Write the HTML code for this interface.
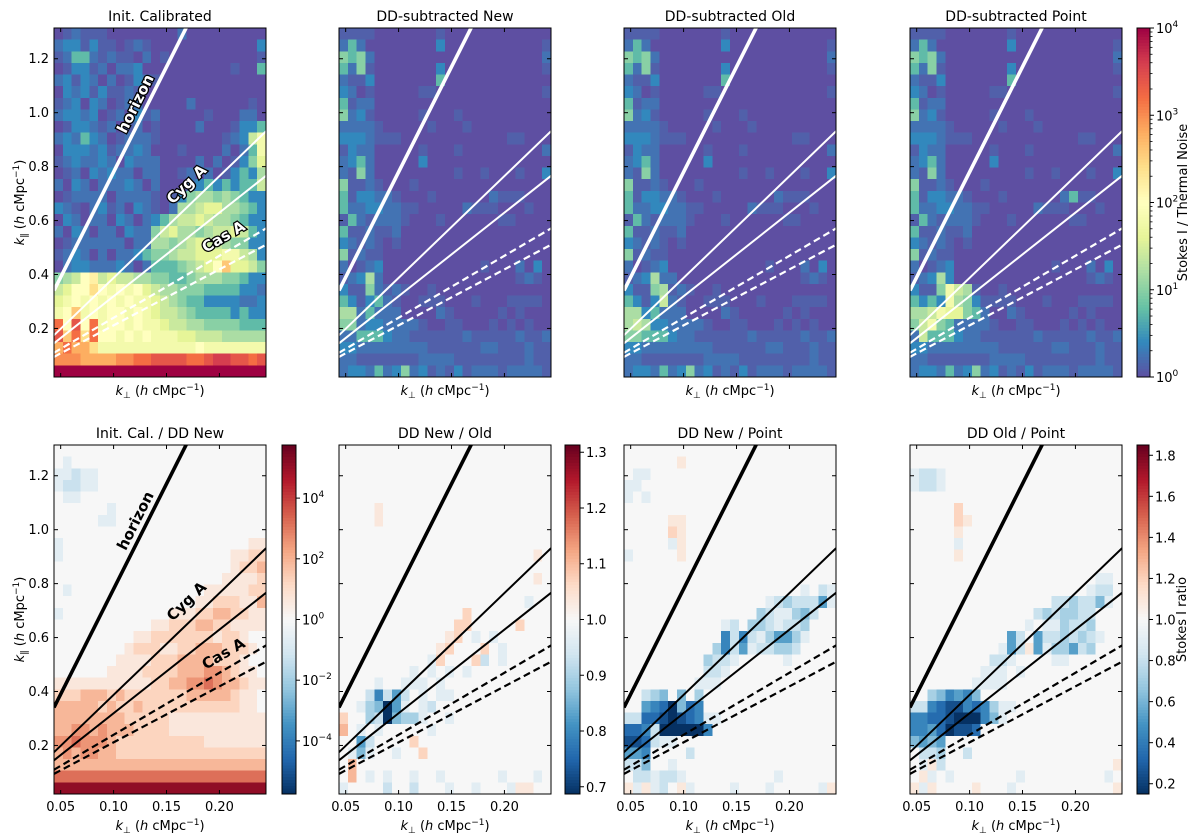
<!DOCTYPE html>
<html><head><meta charset="utf-8">
<style>
html,body{margin:0;padding:0;background:#fff;}
svg{display:block;font-family:"DejaVu Sans","Liberation Sans",sans-serif;}
</style></head>
<body>
<svg id="fig" width="1200" height="839" viewBox="0 0 1200 839" xmlns="http://www.w3.org/2000/svg"></svg>
<script>
// ---------- DATA ----------
const kPerpRange = [0.0437, 0.244];
const kParRange = [0.02, 1.314];
const xTickValues = [0.05, 0.10, 0.15, 0.20];
const xTickLabels = ["0.05", "0.10", "0.15", "0.20"];
const yTickValues = [0.2, 0.4, 0.6, 0.8, 1.0, 1.2];
const yTickLabels = ["0.2", "0.4", "0.6", "0.8", "1.0", "1.2"];
const panelTitlesTop = ["Init. Calibrated", "DD-subtracted New", "DD-subtracted Old", "DD-subtracted Point"];
const panelTitlesBottom = ["Init. Cal. / DD New", "DD New / Old", "DD New / Point", "DD Old / Point"];
const horizonLine = [7.8, 0.0];
const cygLines = [[3.775, 0.010], [3.1, 0.0095]];
const casLines = [[2.3, 0.0095], [2.075, 0.004]];
// log10 value for each level character 0..k
const levelLog = [0, 0.12, 0.25, 0.4, 0.75, 1.0, 1.2, 1.4, 1.6, 1.8, 2.0, 2.2, 2.4, 2.6, 2.8, 3.0, 3.2, 3.4, 3.6, 3.8, 4.0];

const levelsT1 = [
"012111000000002000000000","233131101210000000000003","124421211020100000000001","013312022300000000001004",
"231320201321000000000000","032313112100000000000000","123032012200000200000010","233230120312000001000220",
"013321201201000020001334","232432012221000000012379","033323122320001000020249","123223203222000020201358",
"012032322022001202013436","203202223202000234343447","012222022221013566565433","321023120321026678866543",
"032022032023467787665433","203202203225786656778743","012222220226656787765533","123202022345567788899763",
"023322232024445678ad8875","567ab7877665544566655433","78aaca9a9a87665554444332","89a9a9a9a998765443333223",
"9ad9a9aa9a98776544443433","gahag9aa9a99877665555444","hdgcgaa9a9a9998877766666","egeec99999999999a9999999",
"fffeeeeffgghhhhgghiihhgh","kkkkkkkkkkkkkkkkkkkkkkkk"];
const levelsT2 = [
"111100000001000000000000","242000000003000000000001","545200000000000000000002","425100000003000000000001",
"211300000004000000000000","320100000110000000000001","412200000000000000000000","523100000100010000000000",
"222210000010001000000000","333211100000000000011000","132200000100010000000002","234200000300000000000000",
"215200000000010010001003","511210001000000000000000","413322100010000002111000","422332211000002111000100",
"142122210001000000110000","411211200000000000000000","321210100000000000000000","512110000000000000000000",
"201230000000000010002030","123620000000000000001210","311521210010000000000000","431342100111000100011110",
"662422200002100000101000","552332222100110001010100","224443221111112111112112","332222222211111122111211",
"221111111222211111111211","233242352312131222122221"];
const levelsT3 = [
"111100000001000000000000","242000000003000000000001","545200000000000000000002","425100000003000000000001",
"211300000004000000000000","320100000110000000000001","412200000000000000000000","523100000100010000000000",
"222210000010001000000000","333211100000000000011000","132200000100010000000002","234200000300000000000000",
"215200000000010010001003","511210001000000000000000","413322100010000002111000","422332211000002111000100",
"142122210001000000110000","411211200000000000000000","321210100000000000000000","512110000000000000000000",
"201230000000000010002030","123622000000000000001210","311561210010000000000000","431372100111000100011110",
"663422200002100000101000","676332222100110001010100","554443221111112111112112","332222222211111122111211",
"221111111222211111111211","233242352312131222122221"];
const levelsT4 = [
"111100000001000000000000","242000000003000000000001","545200000000000000000002","425100000003000000000001",
"211300000004000000000000","320100000110000000000001","412200000000000000000000","523100000100010000000000",
"222210000010001000000000","333211100000000000011000","132200000100010000000002","234200000300000000000000",
"215200000000010010001003","511210001000000000000000","413322100010000002411000","422332211000002111000100",
"142122210001000000110000","411211200000000000000000","321210100000000000000000","512110000000000000000000",
"201230000000000010002030","123630000000000000001210","311597610010000000000000","434396531111000100011110",
"667988542002100000101000","579542222100110001010100","274443221111112111112112","332222222211111122111211",
"221111111222211111111211","233242352312131222122221"];

const signsB1 = [
"000000000000000000000000","0a0000000000000000000000","aabaa0000000000000000000","abbaa0000000000000000000",
"0aa000000000000000000000","000000a00000000000000000","00000aa00000000000000000","000000000000000000000000",
"a00000000000000000000011","a00000000000000000001122","000000000000000000001223","000000000000000000011112",
"0a0000000000000001111122","000000000000000011222113","a00000000000011122332211","000000000001122233221111",
"000000000112222222122100","000000001222112233322210","000000011112223333222100","000000111122223334432110",
"111111111112233445433211","222333232222222333332110","333332322322222222222110","333333332222211111111111",
"334434333222211111111111","445444322222222221111111","343443322222222222222222","333333333333333333333333",
"555555555555555555555555","888888888888888888888888"];
const signsB2 = [
"000000000000000000000000","000000000000000000000000","000000000000000000000000","000000000000000000000000",
"000000000000000000000000","000010000000000000000000","000010000000000000000000","000000000000000000000000",
"000000000000000000000000","000000000000000000000010","000000000000000000000000","000000000000000000000010",
"000000000000000000000000","000000000000000000000a00","000000000000002000000000","000000000000022000002000",
"000000000000120a0a000000","000000000001200020a00000","0000000000a20002b0a00000","00000000a0a0a0a000000000",
"0000a00aaa0a000000000000","000bfbeb0a0aa00000000000","00acdiea0ab0000000000000","200cbidcca00a00000000000",
"30a0a00000a0000000000000","00eb000020000000000000000","0ada00a002000000000000000","030000000000000000000000",
"030a0a00a00a000000a000a0","a0000b00b000a00a000a1100"];
const signsB3 = [
"000000000000000000000000","000000100000000000000000","0aa0000000000000000000000","aa0000000000000000000000",
"a0a000000000000000000000","000000000000000000000000","000001100000000000000000","000002100000000000000000",
"00000a100000000000000000","a00000100000000000000000","000000000000000000000000","000000000000000000000000",
"00000000000000000000a0ba","0000000000000000abcbbbea","000000000000000cbaacdb00","00000000000ab0ccbabbc000",
"00000000000fbfbaceeca000","0000000000cfbeabbccb0000","000000000cbba00000a00000","000000000bba000000000000",
"00000000aaa0000000000000","00bcd0d0c000000000000000","00efgidgf000000000000000","bbgghihgfaa0000000000000",
"ggfbiiiiif00000000000000","hhgbaa000000000000000000","eef0000b0000000000000000","bbd00a000000000000000000",
"0bbabba0000000000a000000","1a1ab01a0000a000a00000a1"];
const signsB4 = [
"000000000000000000000000","000000000000000000000000","abba00000000000000000000","abba00000000000000000000",
"000000000000000000000000","000002000000000000000000","000002100000000000000000","000001000000000000000000",
"00000a000000000000000000","000001000000000000000000","000000000000000000000000","000000000000000000000aa0",
"00000000000000000000abb0","0000000000000000bbcbbda0","00000000000000bcbccbb000","0000000000000a0aacbbc000",
"00000000000eb0ebbcbcba00","0000000000aeb1eaccebc000","000000000bba0000aa000000","00000000aaa0a00000000000",
"0000000aaaa0000000000000","00cdfefd0000000000000000","bbfghhfgfcaa000000000000","ffgghiiifda0000000000000",
"ffegihhg0000000000000000","dede0000000000000000000","0bbc00b0000000000000000","0a1b00000000000000000001",
"01a0a0000000a000000000a0","1a100001000a000000000001"];

const cbTopTicks = [0, 1, 2, 3, 4];
const cbB1Ticks = [-4, -2, 0, 2, 4];
const cbB2Ticks = [0.7, 0.8, 0.9, 1.0, 1.1, 1.2, 1.3];
const cbB4Ticks = [0.2, 0.4, 0.6, 0.8, 1.0, 1.2, 1.4, 1.6, 1.8];

// ---------- HELPERS ----------
const NS = "http://www.w3.org/2000/svg";
const svg = document.getElementById("fig");
function mk(tag, attrs, parent) {
  const e = document.createElementNS(NS, tag);
  for (const k in attrs) e.setAttribute(k, attrs[k]);
  (parent || svg).appendChild(e);
  return e;
}
function hex2rgb(h){return [parseInt(h.substr(1,2),16),parseInt(h.substr(3,2),16),parseInt(h.substr(5,2),16)];}
function cmap(stops, t){
  t = Math.max(0, Math.min(1, t));
  const n = stops.length - 1, f = t * n, i = Math.min(Math.floor(f), n - 1), u = f - i;
  const a = hex2rgb(stops[i]), b = hex2rgb(stops[i+1]);
  return "rgb(" + a.map((v,j)=>Math.round(v + (b[j]-v)*u)).join(",") + ")";
}
const spectralR = ["#5e4fa2","#3288bd","#66c2a5","#abdda4","#e6f598","#ffffbf","#fee08b","#fdae61","#f46d43","#d53e4f","#9e0142"];
const rdbuR = ["#053061","#2166ac","#4393c3","#92c5de","#d1e5f0","#f7f7f7","#fddbc7","#f4a582","#d6604d","#b2182b","#67001f"];
const LV = "0123456789abcdefghijk";
function levelToValue(c){ const i = Math.max(0, LV.indexOf(c)); return Math.pow(10, levelLog[i]); }
function signToS(c){ if (c >= "1" && c <= "9") return +c; const i = "abcdefghi".indexOf(c); return i >= 0 ? -(i+1) : 0; }

const panelX = [54, 339, 624, 910];
const PW = 212, PH = 349;
const rowY = [28, 445];
const NC = 24, NR = 30;

function xScale(x0){ return k => x0 + (k - kPerpRange[0]) / (kPerpRange[1] - kPerpRange[0]) * PW; }
function yScale(y0){ return k => y0 + PH - (k - kParRange[0]) / (kParRange[1] - kParRange[0]) * PH; }

function drawPanel(x0, y0, grid, toValue, colorOf, lineColor, idx, rowName, opts) {
  const g = mk("g", {});
  
  
  const xs = xScale(x0), ys = yScale(y0);
  const dk = (kPerpRange[1]-kPerpRange[0]) / NC, dp = (kParRange[1]-kParRange[0]) / NR;
  for (let r = 0; r < NR; r++) {
    const row = (grid[r] || "").padEnd(NC, "0");
    for (let c = 0; c < NC; c++) {
      const v = toValue(row[c]);
      const kx = kPerpRange[0] + c*dk, ky = kParRange[1] - r*dp;
      const px = xs(kx), py = ys(ky);
      const rect = mk("rect", {x: px.toFixed(2), y: py.toFixed(2), width: (xs(kx+dk)-px+0.4).toFixed(2), height: (ys(ky-dp)-py+0.4).toFixed(2), fill: colorOf(v), "shape-rendering": "crispEdges"}, g);
      
      
    }
  }
  const cid = "clip" + rowName + idx;
  const cp = mk("clipPath", {id: cid}, g); mk("rect", {x: x0, y: y0, width: PW, height: PH}, cp);
  const lg = mk("g", {"clip-path": "url(#" + cid + ")"}, g);
  function line(p, w, dash, name) {
    const ka = kPerpRange[0], kb = kPerpRange[1];
    const l = mk("line", {x1: xs(ka), y1: ys(p[0]*ka + p[1]), x2: xs(kb), y2: ys(p[0]*kb + p[1]), stroke: lineColor, "stroke-width": w, "stroke-dasharray": dash || "none"}, lg);
    
    
  }
  line(horizonLine, 3.6, null, 'horizon-line');
  cygLines.forEach(p => line(p, 2, null, 'cyg-a-line'));
  casLines.forEach(p => line(p, 2.2, "7,4", 'cas-a-line'));
  mk("rect", {x: x0, y: y0, width: PW, height: PH, fill: "none", stroke: "#000", "stroke-width": 1}, g);
  xTickValues.forEach(k => { const x = xs(k);
    mk("line", {x1: x, y1: y0+PH, x2: x, y2: y0+PH-4, stroke: "#000"}, g);
    mk("line", {x1: x, y1: y0, x2: x, y2: y0+4, stroke: "#000"}, g); });
  yTickValues.forEach(k => { const y = ys(k);
    mk("line", {x1: x0, y1: y, x2: x0+4, y2: y, stroke: "#000"}, g);
    mk("line", {x1: x0+PW, y1: y, x2: x0+PW-4, y2: y, stroke: "#000"}, g); });
  if (opts.xlabels) xTickValues.forEach((k,i) => {
    const t = mk("text", {x: xs(k), y: y0+PH+17, "font-size": 13, "text-anchor": "middle"}, g); t.textContent = xTickLabels[i];
      });
  if (opts.ylabels) yTickValues.forEach((k,i) => {
    const t = mk("text", {x: x0-5, y: ys(k)+4.5, "font-size": 13, "text-anchor": "end"}, g); t.textContent = yTickLabels[i];
      });
  const tt = mk("text", {x: x0+PW/2, y: y0-7, "font-size": 14, "text-anchor": "middle"}, g);
  tt.textContent = opts.title;
   
  const xl = mk("text", {x: x0+PW/2, y: y0+PH + (opts.xlabels ? 36 : 18), "font-size": 13, "text-anchor": "middle"}, g);
  xl.innerHTML = '<tspan font-style="italic">k</tspan><tspan font-size="9" dy="3">⊥</tspan><tspan dy="-3">  (</tspan><tspan font-style="italic">h</tspan><tspan> cMpc</tspan><tspan font-size="9" dy="-5">−1</tspan><tspan dy="5">)</tspan>';
   
  if (opts.ylabels) {
    const yl = mk("text", {x: 0, y: 0, "font-size": 13, "text-anchor": "middle", transform: "translate(24," + (y0+PH/2) + ") rotate(-90)"}, g);
    yl.innerHTML = '<tspan font-style="italic">k</tspan><tspan font-size="9" dy="3">∥</tspan><tspan dy="-3">  (</tspan><tspan font-style="italic">h</tspan><tspan> cMpc</tspan><tspan font-size="9" dy="-5">−1</tspan><tspan dy="5">)</tspan>';
     
  }
  if (opts.annot) {
    const col = lineColor, outline = lineColor === "#fff" ? "#000" : "none";
    const ann = [["horizon", 140, y0+78, -63.3], ["Cyg A", 190, y0+160, -43.9], ["Cas A", 226, y0+213, -30.3]];
    ann.forEach(a => {
      const t = mk("text", {x: 0, y: 0, "font-size": 15, "font-weight": "bold", "text-anchor": "middle", fill: col, stroke: outline, "stroke-width": outline === "none" ? 0 : 2.5, "paint-order": "stroke", transform: "translate(" + a[1] + "," + a[2] + ") rotate(" + a[3] + ")"}, g);
      t.textContent = a[0];
       
    });
  }
}

const topNorm = v => Math.log10(v) / 4;
const topColor = v => cmap(spectralR, topNorm(v));
[levelsT1, levelsT2, levelsT3, levelsT4].forEach((grid, i) => {
  drawPanel(panelX[i], rowY[0], grid, levelToValue, topColor, "#fff", i, "top",
    {title: panelTitlesTop[i], xlabels: false, ylabels: i === 0, annot: i === 0});
});

const b1Val = c => Math.pow(10, signToS(c) * 0.64);
const b1Color = v => cmap(rdbuR, 0.5 + Math.log10(v) / 11.5);
const b2Val = c => 1 + signToS(c) * 0.0348;
const b2Color = v => cmap(rdbuR, 0.5 + (v - 1) / 0.626);
const b34Val = c => 1 + signToS(c) * 0.094;
const b34Color = v => cmap(rdbuR, (v - 0.15) / 1.7);
drawPanel(panelX[0], rowY[1], signsB1, b1Val, b1Color, "#000", 0, "bottom", {title: panelTitlesBottom[0], xlabels: true, ylabels: true, annot: true});
drawPanel(panelX[1], rowY[1], signsB2, b2Val, b2Color, "#000", 1, "bottom", {title: panelTitlesBottom[1], xlabels: true, ylabels: false, annot: false});
drawPanel(panelX[2], rowY[1], signsB3, b34Val, b34Color, "#000", 2, "bottom", {title: panelTitlesBottom[2], xlabels: true, ylabels: false, annot: false});
drawPanel(panelX[3], rowY[1], signsB4, b34Val, b34Color, "#000", 3, "bottom", {title: panelTitlesBottom[3], xlabels: true, ylabels: false, annot: false});

function colorbar(name, x, y, w, h, colorAt, ticks, posOf, labelOf, title, minor) {
  const g = mk("g", {});
  
  
  const n = 120;
  for (let i = 0; i < n; i++) {
    mk("rect", {x: x, y: (y + h - (i+1)*h/n).toFixed(2), width: w, height: (h/n + 0.5).toFixed(2), fill: colorAt((i+0.5)/n), "shape-rendering": "crispEdges"}, g);
  }
  mk("rect", {x: x, y: y, width: w, height: h, fill: "none", stroke: "#000"}, g);
  (minor || []).forEach(f => { const yy = y + h - f*h; mk("line", {x1: x+w, y1: yy, x2: x+w+2.5, y2: yy, stroke: "#000", "stroke-width": 0.8}, g); });
  ticks.forEach(tv => {
    const f = posOf(tv), yy = y + h - f*h;
    mk("line", {x1: x+w, y1: yy, x2: x+w+4, y2: yy, stroke: "#000"}, g);
    const t = mk("text", {x: x+w+6, y: yy+5, "font-size": 13}, g);
    t.innerHTML = labelOf(tv);
     
  });
  if (title) {
    const t = mk("text", {x: 0, y: 0, "font-size": 13, "text-anchor": "middle", transform: "translate(" + (x+w+37) + "," + (y+h/2) + ") rotate(-90)"}, g);
    t.textContent = title;
     
  }
}
const logLab = v => '10<tspan font-size="9" dy="-6">' + (v < 0 ? '−' + (-v) : v) + '</tspan>';
const topMinor = [];
for (let d = 0; d < 4; d++) for (let m = 2; m < 10; m++) topMinor.push((d + Math.log10(m)) / 4);
colorbar("colorbar-top", 1137, rowY[0], 13, PH, t => cmap(spectralR, t), cbTopTicks, v => v/4, logLab, "Stokes I / Thermal Noise", topMinor);
colorbar("colorbar-bottom-1", 282, rowY[1], 14, PH, t => cmap(rdbuR, t), cbB1Ticks, v => 0.5 + v/11.5, logLab, null, []);
colorbar("colorbar-bottom-2", 565, rowY[1], 15, PH, t => cmap(rdbuR, t), cbB2Ticks, v => 0.5 + (v-1)/0.626, v => v.toFixed(1), null, []);
colorbar("colorbar-bottom-ratio", 1137, rowY[1], 12, PH, t => cmap(rdbuR, t), cbB4Ticks, v => (v-0.15)/1.7, v => v.toFixed(1), "Stokes I ratio", []);
</script>
</body></html>
